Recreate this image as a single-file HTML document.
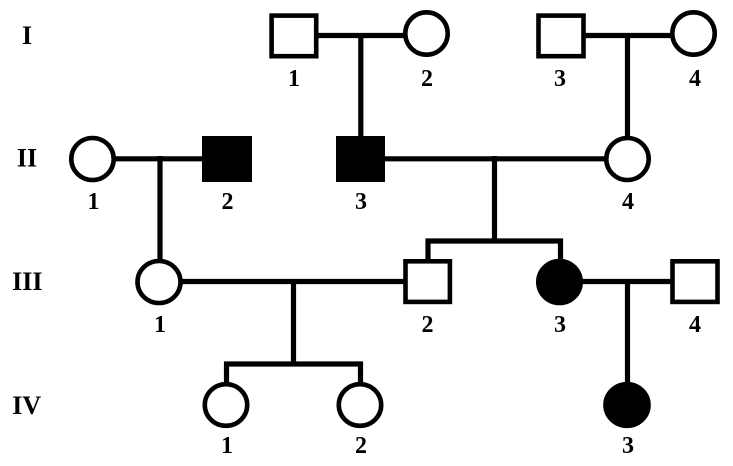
<!DOCTYPE html>
<html>
<head>
<meta charset="utf-8">
<style>
  html, body { margin: 0; padding: 0; background: #fff; }
  svg { display: block; }
  text { font-family: "Liberation Serif", "Times New Roman", serif; font-weight: bold; fill: #000; }
</style>
</head>
<body>
<svg width="733" height="466" viewBox="0 0 733 466" xmlns="http://www.w3.org/2000/svg">
  <rect x="0" y="0" width="733" height="466" fill="#fff"/>

  <!-- Generation labels -->
  <g font-size="26" text-anchor="middle">
    <text x="27" y="44">I</text>
    <text x="27" y="166.5">II</text>
    <text x="27.3" y="290">III</text>
    <text x="26.7" y="414">IV</text>
  </g>

  <!-- connector lines -->
  <g stroke="#000" stroke-width="5.2" fill="none" stroke-linecap="butt">
    <!-- I-1 x I-2 -->
    <line x1="318" y1="35.5" x2="405" y2="35.5"/>
    <line x1="360.8" y1="33" x2="360.8" y2="137"/>
    <!-- I-3 x I-4 -->
    <line x1="585" y1="35.5" x2="672" y2="35.5"/>
    <line x1="627.5" y1="33" x2="627.5" y2="137"/>
    <!-- II-1 x II-2 -->
    <line x1="114" y1="158.8" x2="203" y2="158.8"/>
    <line x1="160" y1="156" x2="160" y2="261"/>
    <!-- II-3 x II-4 -->
    <line x1="383" y1="158.8" x2="606" y2="158.8"/>
    <line x1="494.5" y1="156" x2="494.5" y2="241"/>
    <!-- sibship III -->
    <line x1="425.5" y1="241" x2="563" y2="241"/>
    <line x1="428" y1="238.5" x2="428" y2="261"/>
    <line x1="560.5" y1="238.5" x2="560.5" y2="261"/>
    <!-- III-1 x III-2 -->
    <line x1="181" y1="281.5" x2="405" y2="281.5"/>
    <line x1="293.5" y1="279" x2="293.5" y2="364"/>
    <!-- sibship IV -->
    <line x1="224" y1="364" x2="363" y2="364"/>
    <line x1="226.5" y1="361.5" x2="226.5" y2="385"/>
    <line x1="360.5" y1="361.5" x2="360.5" y2="385"/>
    <!-- III-3 x III-4 -->
    <line x1="581" y1="281.5" x2="672" y2="281.5"/>
    <line x1="627.5" y1="279" x2="627.5" y2="385"/>
  </g>

  <!-- individuals -->
  <g stroke="#000" stroke-width="4.6">
    <!-- Gen I -->
    <rect x="271.6" y="15.6" width="44.6" height="40.6" fill="#fff"/>
    <ellipse cx="426.5" cy="33.5" rx="21.2" ry="21.2" fill="#fff"/>
    <rect x="538.5" y="15.6" width="45" height="40.6" fill="#fff"/>
    <ellipse cx="693.5" cy="33.5" rx="21.2" ry="21.2" fill="#fff"/>
    <!-- Gen II -->
    <ellipse cx="92.5" cy="159" rx="21.2" ry="21" fill="#fff"/>
    <rect x="204.3" y="138.3" width="45.4" height="41.4" fill="#000"/>
    <rect x="338.3" y="138.3" width="44.4" height="41.4" fill="#000"/>
    <ellipse cx="627.5" cy="159" rx="21.2" ry="21" fill="#fff"/>
    <!-- Gen III -->
    <ellipse cx="159" cy="282" rx="21.5" ry="21" fill="#fff"/>
    <rect x="405.5" y="261.3" width="44.4" height="40.6" fill="#fff"/>
    <ellipse cx="559.5" cy="282" rx="21.2" ry="21" fill="#000"/>
    <rect x="672.5" y="261.3" width="45" height="40.6" fill="#fff"/>
    <!-- Gen IV -->
    <ellipse cx="226" cy="405" rx="21.2" ry="20.8" fill="#fff"/>
    <ellipse cx="360" cy="405" rx="21.2" ry="20.8" fill="#fff"/>
    <ellipse cx="627" cy="405" rx="21.5" ry="20.8" fill="#000"/>
  </g>

  <!-- individual numbers -->
  <g font-size="24" text-anchor="middle">
    <text x="294" y="86">1</text>
    <text x="427" y="86">2</text>
    <text x="560" y="86">3</text>
    <text x="695" y="86">4</text>

    <text x="93.5" y="209">1</text>
    <text x="227.5" y="209">2</text>
    <text x="361" y="209">3</text>
    <text x="628" y="209">4</text>

    <text x="160" y="332">1</text>
    <text x="427.5" y="332">2</text>
    <text x="560" y="332">3</text>
    <text x="695" y="332">4</text>

    <text x="227" y="453">1</text>
    <text x="361" y="453">2</text>
    <text x="628" y="453">3</text>
  </g>
</svg>
</body>
</html>
